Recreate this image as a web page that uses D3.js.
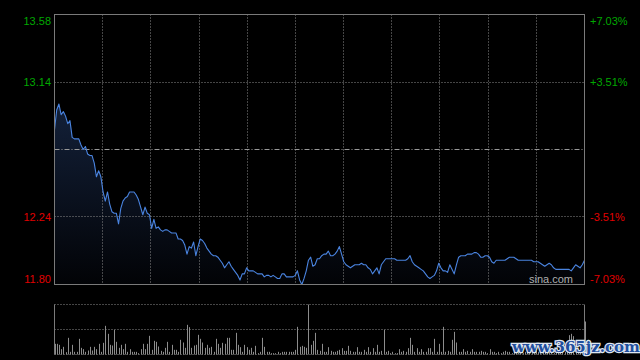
<!DOCTYPE html>
<html>
<head>
<meta charset="utf-8">
<script src="https://cdn.jsdelivr.net/npm/d3@7"></script>
<style>
  html, body { margin: 0; padding: 0; background: #000; }
  svg { display: block; }
</style>
</head>
<body>
<svg id="chart"></svg>
<script>
// intraday minute data (241 minutes)
const prevClose = 12.69
const priceTicks = [13.58, 13.14, 12.24, 11.80]
const pctTicks = [7.03, 3.51, -3.51, -7.03]
const pctLabels = ['+7.03%', '+3.51%', '-3.51%', '-7.03%']

const prices = [
  12.82, 12.95, 12.99, 12.92, 12.94, 12.91, 12.86, 12.88, 12.77, 12.76,
  12.76, 12.76, 12.72, 12.69, 12.71, 12.66, 12.65, 12.65, 12.60, 12.51,
  12.55, 12.51, 12.41, 12.35, 12.41, 12.33, 12.28, 12.27, 12.27, 12.20,
  12.30, 12.35, 12.37, 12.38, 12.41, 12.41, 12.41, 12.39, 12.36, 12.31,
  12.26, 12.31, 12.27, 12.26, 12.17, 12.23, 12.17, 12.18, 12.16, 12.15,
  12.16, 12.16, 12.15, 12.14, 12.14, 12.14, 12.10, 12.10, 12.09, 12.06,
  12.00, 12.05, 12.04, 12.08, 11.99, 12.05, 12.10, 12.09, 12.07, 12.04,
  12.02, 12.00, 11.99, 11.99, 11.98, 11.96, 11.94, 11.91, 11.93, 11.95,
  11.92, 11.90, 11.88, 11.86, 11.83, 11.87, 11.87, 11.91, 11.89, 11.89,
  11.89, 11.88, 11.87, 11.87, 11.87, 11.85, 11.86, 11.86, 11.85, 11.86,
  11.85, 11.84, 11.84, 11.87, 11.87, 11.85, 11.85, 11.85, 11.85, 11.86,
  11.89, 11.83, 11.80, 11.84, 11.89, 11.96, 11.98, 11.92, 11.93, 11.97,
  11.97, 11.99, 12.00, 12.00, 12.02, 11.99, 11.99, 12.00, 12.02, 12.05,
  12.00, 11.95, 11.93, 11.92, 11.91, 11.92, 11.93, 11.93, 11.93, 11.94,
  11.93, 11.93, 11.91, 11.90, 11.87, 11.89, 11.91, 11.87, 11.93, 11.95,
  11.97, 11.97, 11.97, 11.97, 11.97, 11.96, 11.96, 11.96, 11.96, 11.96,
  11.97, 11.99, 11.95, 11.93, 11.92, 11.91, 11.90, 11.89, 11.87, 11.85,
  11.84, 11.85, 11.86, 11.89, 11.94, 11.91, 11.89, 11.89, 11.88, 11.93,
  11.90, 11.87, 11.93, 11.98, 11.99, 11.99, 11.99, 12.00, 12.00, 12.00,
  12.01, 12.01, 12.00, 11.98, 11.98, 11.99, 11.99, 11.98, 11.95, 11.94,
  11.96, 11.96, 11.96, 11.96, 11.96, 11.97, 11.98, 11.98, 11.98, 11.97,
  11.96, 11.96, 11.96, 11.96, 11.96, 11.96, 11.96, 11.95, 11.95, 11.95,
  11.94, 11.93, 11.92, 11.93, 11.94, 11.93, 11.91, 11.90, 11.90, 11.90,
  11.90, 11.90, 11.90, 11.90, 11.89, 11.91, 11.93, 11.92, 11.91, 11.93,
  11.96
]

// volume per minute (relative units)
const volumes = [
  32, 32, 29, 16, 23, 7, 50, 8, 29, 8,
  8, 47, 20, 16, 8, 12, 23, 12, 23, 16,
  32, 8, 35, 86, 62, 29, 27, 74, 38, 20,
  29, 16, 32, 8, 16, 8, 8, 8, 4, 16,
  32, 16, 32, 56, 14, 41, 38, 24, 11, 8,
  20, 38, 8, 29, 14, 14, 8, 44, 36, 20,
  89, 82, 20, 27, 29, 59, 47, 36, 20, 29,
  20, 23, 8, 47, 32, 20, 35, 32, 50, 50,
  14, 14, 65, 29, 22, 8, 29, 22, 14, 20,
  8, 26, 4, 8, 50, 23, 8, 8, 4, 4,
  4, 8, 4, 8, 8, 8, 8, 8, 8, 14,
  83, 23, 26, 23, 20, 150, 29, 41, 65, 14,
  11, 32, 8, 8, 22, 11, 8, 8, 11, 14,
  19, 11, 11, 26, 11, 8, 8, 22, 8, 8,
  14, 8, 22, 8, 19, 8, 29, 8, 11, 74,
  8, 11, 4, 8, 4, 4, 16, 8, 11, 8,
  19, 50, 29, 8, 19, 8, 16, 8, 8, 19,
  19, 8, 47, 8, 32, 8, 83, 8, 11, 8,
  44, 68, 36, 8, 8, 16, 8, 11, 8, 16,
  8, 8, 8, 11, 8, 8, 4, 16, 8, 8,
  4, 8, 4, 8, 11, 8, 8, 4, 8, 8,
  11, 8, 4, 8, 14, 8, 4, 8, 11, 8,
  4, 8, 8, 11, 8, 8, 4, 8, 8, 8,
  11, 8, 14, 58, 62, 55, 8, 11, 14, 8,
  99
]

const width = 640
const height = 360
const main = {left: 54.5, right: 584.5, top: 14.5, bottom: 284.5}
const vol = {top: 304.5, bottom: 354.5}
const vGridCount = 11

const svg = d3.select('#chart')
    .attr('width', width)
    .attr('height', height)
    .style('background', '#000')

const x = d3.scaleLinear()
    .domain([0, prices.length - 1])
    .range([main.left, main.right])

const y = d3.scaleLinear()
    .domain([priceTicks[priceTicks.length - 1], priceTicks[0]])
    .range([main.bottom, main.top])

// percent scale used for the grid rows
const yPct = d3.scaleLinear()
    .domain([pctTicks[pctTicks.length - 1], pctTicks[0]])
    .range([main.bottom, main.top])

const yVol = d3.scaleLinear()
    .domain([0, d3.max(volumes)])
    .range([vol.bottom, vol.top])

const crisp = v => Math.round(v - 0.5) + 0.5

// area gradient
const defs = svg.append('defs')
const grad = defs.append('linearGradient')
    .attr('id', 'areaFill')
    .attr('gradientUnits', 'userSpaceOnUse')
    .attr('x1', 0).attr('x2', 0)
    .attr('y1', main.top + 80).attr('y2', main.bottom)
grad.append('stop').attr('offset', '0%').attr('stop-color', '#14223c')
grad.append('stop').attr('offset', '100%').attr('stop-color', '#020306')

svg.append('path')
    .datum(prices)
    .attr('fill', 'url(#areaFill)')
    .attr('d', d3.area()
        .x((d, i) => x(i))
        .y0(main.bottom)
        .y1(d => y(d)))

// vertical grid lines (main + volume)
const vTicks = d3.range(1, vGridCount).map(k => k * (prices.length - 1) / vGridCount)
svg.append('g')
    .selectAll('line')
    .data(vTicks)
    .join('line')
        .attr('x1', d => crisp(x(d)))
        .attr('x2', d => crisp(x(d)))
        .attr('y1', main.top)
        .attr('y2', main.bottom)
        .attr('stroke', '#8a8a8a')
        .attr('stroke-dasharray', '1,2')

// horizontal grid lines
svg.append('g')
    .selectAll('line')
    .data([pctTicks[1], pctTicks[2]])
    .join('line')
        .attr('x1', main.left)
        .attr('x2', main.right)
        .attr('y1', d => crisp(yPct(d)))
        .attr('y2', d => crisp(yPct(d)))
        .attr('stroke', '#8a8a8a')
        .attr('stroke-dasharray', '1,2')

// previous close line
svg.append('line')
    .attr('x1', main.left)
    .attr('x2', main.right)
    .attr('y1', crisp(yPct(0)))
    .attr('y2', crisp(yPct(0)))
    .attr('stroke', '#9a9a9a')
    .attr('stroke-dasharray', '5,2,1,2')

// price line
svg.append('path')
    .datum(prices)
    .attr('fill', 'none')
    .attr('stroke', '#4a84e0')
    .attr('stroke-width', 1.1)
    .attr('stroke-linejoin', 'round')
    .attr('d', d3.line()
        .x((d, i) => x(i))
        .y(d => y(d)))

// main border
svg.append('rect')
    .attr('x', main.left)
    .attr('y', main.top)
    .attr('width', main.right - main.left)
    .attr('height', main.bottom - main.top)
    .attr('fill', 'none')
    .attr('stroke', '#7a7a7a')

// left price labels
const labelY = d => Math.min(Math.max(yPct(d) + 4, main.top + 10), main.bottom - 2)
svg.append('g')
    .selectAll('text')
    .data(priceTicks)
    .join('text')
        .attr('x', 51)
        .attr('y', (d, i) => labelY(pctTicks[i]))
        .attr('text-anchor', 'end')
        .attr('font-family', '"Liberation Sans", Arial, sans-serif')
        .attr('font-size', '11px')
        .attr('fill', d => d >= prevClose ? '#00a800' : '#e00000')
        .text(d => d.toFixed(2))

// right percent labels
svg.append('g')
    .selectAll('text')
    .data(pctTicks)
    .join('text')
        .attr('x', 590)
        .attr('y', d => labelY(d))
        .attr('font-family', '"Liberation Sans", Arial, sans-serif')
        .attr('font-size', '11px')
        .attr('fill', d => d > 0 ? '#00a800' : '#e00000')
        .text((d, i) => pctLabels[i])

svg.append('text')
    .attr('x', 573)
    .attr('y', 283)
    .attr('text-anchor', 'end')
    .attr('font-family', '"Liberation Sans", Arial, sans-serif')
    .attr('font-size', '11px')
    .attr('fill', '#b0b0b0')
    .text('sina.com')

// volume panel
svg.append('g')
    .selectAll('line')
    .data([vol.top, (vol.top + vol.bottom) / 2, vol.bottom])
    .join('line')
        .attr('x1', main.left)
        .attr('x2', main.right)
        .attr('y1', d => crisp(d))
        .attr('y2', d => crisp(d))
        .attr('stroke', '#8a8a8a')
        .attr('stroke-dasharray', '1,2')

svg.append('g')
    .selectAll('rect')
    .data(volumes)
    .join('rect')
        .attr('x', (d, i) => Math.round(x(i)))
        .attr('width', 1)
        .attr('y', d => yVol(d))
        .attr('height', d => vol.bottom - yVol(d))
        .attr('fill', '#8c8c8c')

svg.append('g')
    .selectAll('line')
    .data([main.left, main.right])
    .join('line')
        .attr('x1', d => d)
        .attr('x2', d => d)
        .attr('y1', vol.top)
        .attr('y2', vol.bottom)
        .attr('stroke', '#7a7a7a')

// watermark
svg.append('text')
    .attr('x', 576)
    .attr('y', 352)
    .attr('text-anchor', 'middle')
    .attr('font-family', '"DejaVu Serif", serif')
    .attr('font-weight', 'bold')
    .attr('font-size', '15px')
    .attr('fill', '#1f4f9e')
    .attr('stroke', '#dfe6f0')
    .attr('stroke-width', 2.5)
    .attr('paint-order', 'stroke')
    .text('www.365jz.com')
</script>
</body>
</html>
